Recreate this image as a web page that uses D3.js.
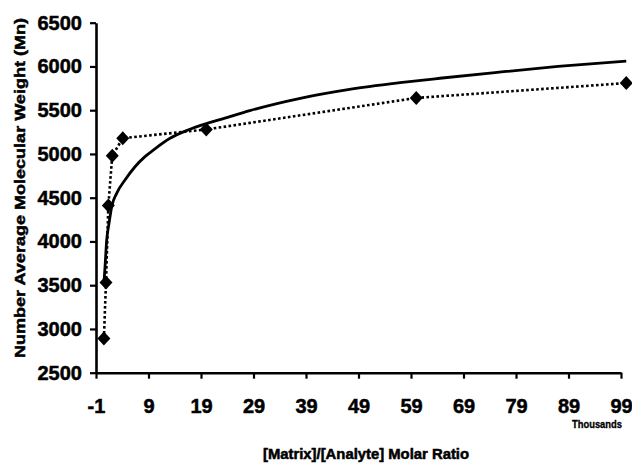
<!DOCTYPE html>
<html><head><meta charset="utf-8">
<script src="https://cdn.jsdelivr.net/npm/d3@7"></script>
<style>body{margin:0;background:#fff}svg{display:block}text{font-family:"Liberation Sans",Arial,sans-serif;font-weight:bold;fill:#000}</style>
</head><body>
<svg id="c" width="632" height="466"></svg>
<script>
// Measured data (x in thousands)
const ratioX = [0.5, 0.9, 1.35, 2.1, 4.1, 20, 60, 100];
const mnValues = [2890, 3530, 4410, 4980, 5180, 5280, 5640, 5810];
// Trend curve
const trendX = [0.55, 0.71, 1.04, 1.48, 1.99, 2.94, 4.52, 6.43, 8.33, 10.1, 13.1, 16.9, 24.5, 28.3, 37.9, 47, 56.9, 64.5, 75, 87, 100];
const trendY = [3560, 3700, 4017, 4207, 4397, 4550, 4702, 4854, 4969, 5053, 5179, 5282, 5426, 5495, 5636, 5735, 5814, 5865, 5930, 6000, 6062];
const xTicks = [-1, 9, 19, 29, 39, 49, 59, 69, 79, 89, 99];
const yTicks = [2500, 3000, 3500, 4000, 4500, 5000, 5500, 6000, 6500];

const svg = d3.select("#c");
const x = d3.scaleLinear().domain([-1, 99]).range([96, 621]);
const y = d3.scaleLinear().domain([2500, 6500]).range([372.7, 22.7]);
const fmt = d => String(d);

// axes
const xAxis = svg.append("g").attr("transform", `translate(0,${y(2500)})`)
  .call(d3.axisBottom(x).tickValues(xTicks).tickFormat(fmt).tickSize(6).tickSizeOuter(0).tickPadding(20));
const yAxis = svg.append("g").attr("transform", `translate(${x(-1)},0)`)
  .call(d3.axisLeft(y).tickValues(yTicks).tickFormat(fmt).tickSize(6).tickSizeOuter(0).tickPadding(8));
[xAxis, yAxis].forEach(g => {
  g.select(".domain").attr("stroke", "#000").attr("stroke-width", 2.6);
  g.selectAll(".tick line").attr("stroke", "#000").attr("stroke-width", 2.2);
  g.selectAll(".tick text").style("font-size", "20px").style("font-family", '"Liberation Sans",Arial,sans-serif')
    .style("font-weight", "bold").attr("fill", "#000").attr("stroke", "#000").attr("stroke-width", 0.5);
});

// trend line
svg.append("path")
  .datum(trendX.map((d, i) => [d, trendY[i]]))
  .attr("fill", "none").attr("stroke", "#000").attr("stroke-width", 2.8)
  .attr("d", d3.line().x(d => x(d[0])).y(d => y(d[1])).curve(d3.curveMonotoneX));

// dotted data line
const pts = ratioX.map((d, i) => [d, mnValues[i]]);
svg.append("path")
  .datum(pts)
  .attr("fill", "none").attr("stroke", "#000").attr("stroke-width", 2.6)
  .attr("stroke-dasharray", "2.6,2.4")
  .attr("d", d3.line().x(d => x(d[0])).y(d => y(d[1])));

svg.selectAll("path.mk").data(pts).enter().append("path")
  .attr("class", "mk")
  .attr("d", "M0,-7L6.5,0L0,7L-6.5,0Z")
  .attr("fill", "#000")
  .attr("transform", d => `translate(${x(d[0])},${y(d[1])})`);

// labels
svg.append("text").attr("x", 597).attr("y", 428).attr("text-anchor", "middle")
  .style("font-size", "10px").attr("textLength", 50).attr("lengthAdjust", "spacingAndGlyphs")
  .attr("stroke", "#000").attr("stroke-width", 0.3).text("Thousands");
svg.append("text").attr("x", 366).attr("y", 459).attr("text-anchor", "middle")
  .style("font-size", "14px").attr("textLength", 206).attr("lengthAdjust", "spacingAndGlyphs")
  .attr("stroke", "#000").attr("stroke-width", 0.5)
  .text("[Matrix]/[Analyte] Molar Ratio");
svg.append("text").attr("transform", "translate(25,188) rotate(-90)").attr("text-anchor", "middle")
  .style("font-size", "15px").attr("textLength", 340).attr("lengthAdjust", "spacingAndGlyphs")
  .attr("stroke", "#000").attr("stroke-width", 0.5)
  .text("Number Average Molecular Weight (Mn)");
</script>
</body></html>
